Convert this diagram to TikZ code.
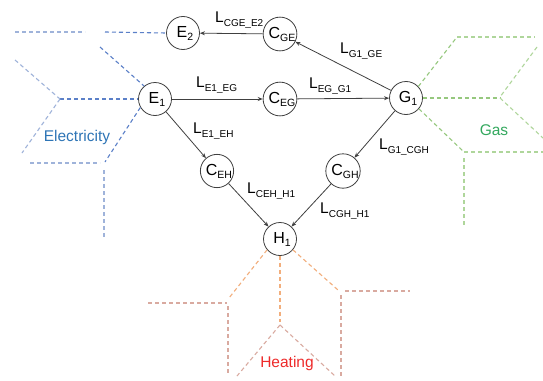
\documentclass[tikz,border=0pt]{standalone}
\usepackage{fontspec}
\setmainfont{Liberation Sans}
\usetikzlibrary{arrows.meta}
\definecolor{edgec}{HTML}{404040}
\definecolor{elecA}{HTML}{5B80C8}
\definecolor{elecB}{HTML}{9FB3DA}
\definecolor{gasA}{HTML}{96C87E}
\definecolor{gasB}{HTML}{AFD69B}
\definecolor{heatA}{HTML}{F2AE7C}
\definecolor{heatB}{HTML}{D9AAA0}
\definecolor{elecT}{HTML}{2E75B6}
\definecolor{gasT}{HTML}{33A85E}
\definecolor{heatT}{HTML}{EE2A2A}
\newcommand{\lsub}[1]{\raisebox{-4.5pt}{\fontsize{10}{11}\selectfont #1}}
\newcommand{\nsub}[1]{\raisebox{-3pt}{\fontsize{10.5}{11}\selectfont #1}}
\begin{document}
\begin{tikzpicture}[x=1pt,y=-1pt,
  bus/.style={circle,draw=edgec,line width=0.8pt,minimum size=33pt,inner sep=0pt,font=\fontsize{16}{17}\selectfont,execute at begin node=\hspace*{4pt}},
  flow/.style={draw=edgec,line width=0.8pt,-{Stealth[length=5pt,width=4pt]}},
  lab/.style={anchor=base west,inner sep=0pt,font=\fontsize{15.5}{17}\selectfont},
  area/.style={inner sep=0pt,font=\fontsize{15.5}{17}\selectfont},
  ed/.style={dash pattern=on 4pt off 3pt, line width=1.1pt},
]
\useasboundingbox[fill=white] (0,0) rectangle (543,380);

% nodes
\node[bus] (E2) at (183,33) {E\nsub{2}};
\node[bus] (CGE) at (280,34) {C\nsub{GE}};
\node[bus] (E1) at (155,99) {E\nsub{1}};
\node[bus] (CEG) at (280,99) {C\nsub{EG}};
\node[bus] (G1) at (406,98) {G\nsub{1}};
\node[bus] (CEH) at (217,171) {C\nsub{EH}};
\node[bus] (CGH) at (343,171) {C\nsub{GH}};
\node[bus] (H1) at (280,239) {H\nsub{1}};

% flows
\draw[flow] (CGE) -- (E2);
\draw[flow] (G1) -- (CGE);
\draw[flow] (E1) -- (CEG);
\draw[flow] (CEG) -- (G1);
\draw[flow] (E1) -- (CEH);
\draw[flow] (G1) -- (CGH);
\draw[flow] (CEH) -- (H1);
\draw[flow] (CGH) -- (H1);

% labels
\node[lab] (l1) at (215,22) {L\lsub{CGE\_E2}};
\node[lab] (l2) at (340,53) {L\lsub{G1\_GE}};
\node[lab] (l3) at (196,87) {L\lsub{E1\_EG}};
\node[lab] (l4) at (309,88) {L\lsub{EG\_G1}};
\node[lab] (l5) at (193,133) {L\lsub{E1\_EH}};
\node[lab] (l6) at (379,149) {L\lsub{G1\_CGH}};
\node[lab] (l7) at (247,193) {L\lsub{CEH\_H1}};
\node[lab] (l8) at (320,213) {L\lsub{CGH\_H1}};

% electricity area
\draw[ed,elecB] (15,32) -- (85,32);
\draw[ed,elecA] (105,32) -- (E2.west);
\draw[ed,elecA] (100,47) -- (E1.130);
\draw[ed,elecA] (60,99) -- (E1.west);
\draw[ed,elecB] (15,60) -- (60,99);
\draw[ed,elecB] (60,99) -- (22,153);
\draw[ed,elecA] (E1.210) -- (105,162);
\draw[ed,elecB] (30,163) -- (100,163);
\draw[ed,elecB] (104,170) -- (104,237);
\node[area,text=elecT] (tE) at (77,137) {Electricity};

% gas area
\draw[ed,gasA] (G1.43) -- (457,37);
\draw[ed,gasB] (457,37) -- (535,37);
\draw[ed,gasB] (537,47) -- (500,97);
\draw[ed,gasA] (G1.east) -- (500,98);
\draw[ed,gasB] (500,98) -- (543,138);
\draw[ed,gasA] (G1.-40) -- (464,152);
\draw[ed,gasB] (464,152) -- (543,152);
\draw[ed,gasB] (464,158) -- (464,225);
\node[area,text=gasT] (tG) at (494,130) {Gas};

% heating area
\draw[ed,heatA] (H1.-140) -- (229,298);
\draw[ed,heatB] (148,303) -- (227,303);
\draw[ed,heatB] (228,306) -- (228,375);
\draw[ed,heatA] (H1.south) -- (280,322);
\draw[ed,heatB] (280,325) -- (237,376);
\draw[ed,heatB] (280,325) -- (335,376);
\draw[ed,heatA] (H1.-40) -- (338,290);
\draw[ed,heatB] (341,295) -- (341,377);
\draw[ed,heatB] (345,291) -- (410,291);
\node[area,text=heatT] (tH) at (287,363) {Heating};
\end{tikzpicture}
\end{document}
